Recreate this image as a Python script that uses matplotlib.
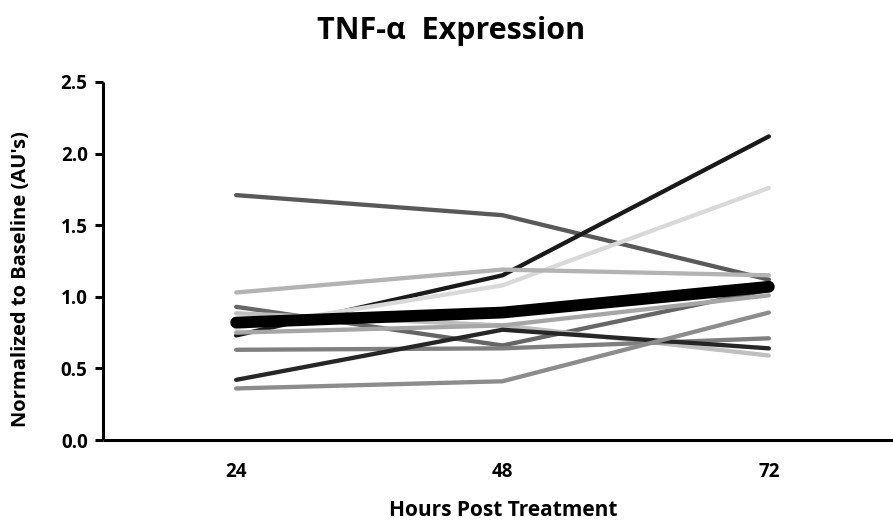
import matplotlib
matplotlib.use("Agg")
import matplotlib.pyplot as plt

plt.rcParams['font.family'] = ['Open Sans', 'DejaVu Sans']
plt.rcParams['font.weight'] = 'bold'

# Hours post treatment (category axis)
HOURS = ['24', '48', '72']

# Individual subjects, values
SUBJECT_VALUES = [
    [1.71, 1.57, 1.12],
    [0.73, 1.15, 2.12],
    [0.78, 1.08, 1.76],
    [1.03, 1.19, 1.15],
    [0.93, 0.66, 1.05],
    [0.885, 0.80, 0.59],
    [0.75, 0.80, 1.01],
    [0.63, 0.64, 0.71],
    [0.42, 0.77, 0.64],
    [0.36, 0.41, 0.89],
]
SUBJECT_COLORS = ['#595959', '#1a1a1a', '#d9d9d9', '#b3b3b3', '#666666',
                  '#bfbfbf', '#a6a6a6', '#7f7f7f', '#262626', '#8c8c8c']

# Group mean (thick black line)
MEAN_VALUES = [0.82, 0.89, 1.07]

TITLE = 'TNF-\u03b1  Expression'
X_LABEL = 'Hours Post Treatment'
Y_LABEL = "Normalized to Baseline (AU's)"


def main():
    fig = plt.figure(figsize=(8.93, 5.22), dpi=100)
    ax = fig.add_axes([103 / 893, 82 / 522, 799 / 893, 358 / 522])

    x = range(len(HOURS))
    for values, color in zip(SUBJECT_VALUES, SUBJECT_COLORS):
        ax.plot(x, values, color=color, linewidth=3.1, solid_capstyle='round',
                solid_joinstyle='round')
    ax.plot(x, MEAN_VALUES, color='black', linewidth=8.5, solid_capstyle='round',
            solid_joinstyle='round')

    ax.set_xlim(-0.5, 2.5)
    ax.set_ylim(0, 2.5)
    ax.set_xticks(list(x))
    ax.set_xticklabels(HOURS)
    yticks = [0, 0.5, 1.0, 1.5, 2.0, 2.5]
    ax.set_yticks(yticks)
    ax.set_yticklabels(['{:.1f}'.format(v) for v in yticks])

    for side in ['top', 'right']:
        ax.spines[side].set_visible(False)
    for side in ['left', 'bottom']:
        ax.spines[side].set_linewidth(2.2)
        ax.spines[side].set_capstyle('butt')

    ax.tick_params(axis='y', direction='out', length=6, width=2.2, labelsize=13.5, pad=5)
    ax.tick_params(axis='x', length=0, labelsize=13.5, pad=16)

    # axis titles placed in figure pixels
    fig.text(503 / 893, 1 - 510 / 522, X_LABEL, fontsize=15, fontweight='bold',
             ha='center', va='center')
    fig.text(21 / 893, 1 - 279 / 522, Y_LABEL, fontsize=14.5, fontweight='bold',
             ha='center', va='center', rotation=90)
    fig.text(451 / 893, 1 - 31 / 522, TITLE, fontsize=22, fontweight='bold',
             ha='center', va='center')

    fig.savefig('out.png', dpi=100)


main()
